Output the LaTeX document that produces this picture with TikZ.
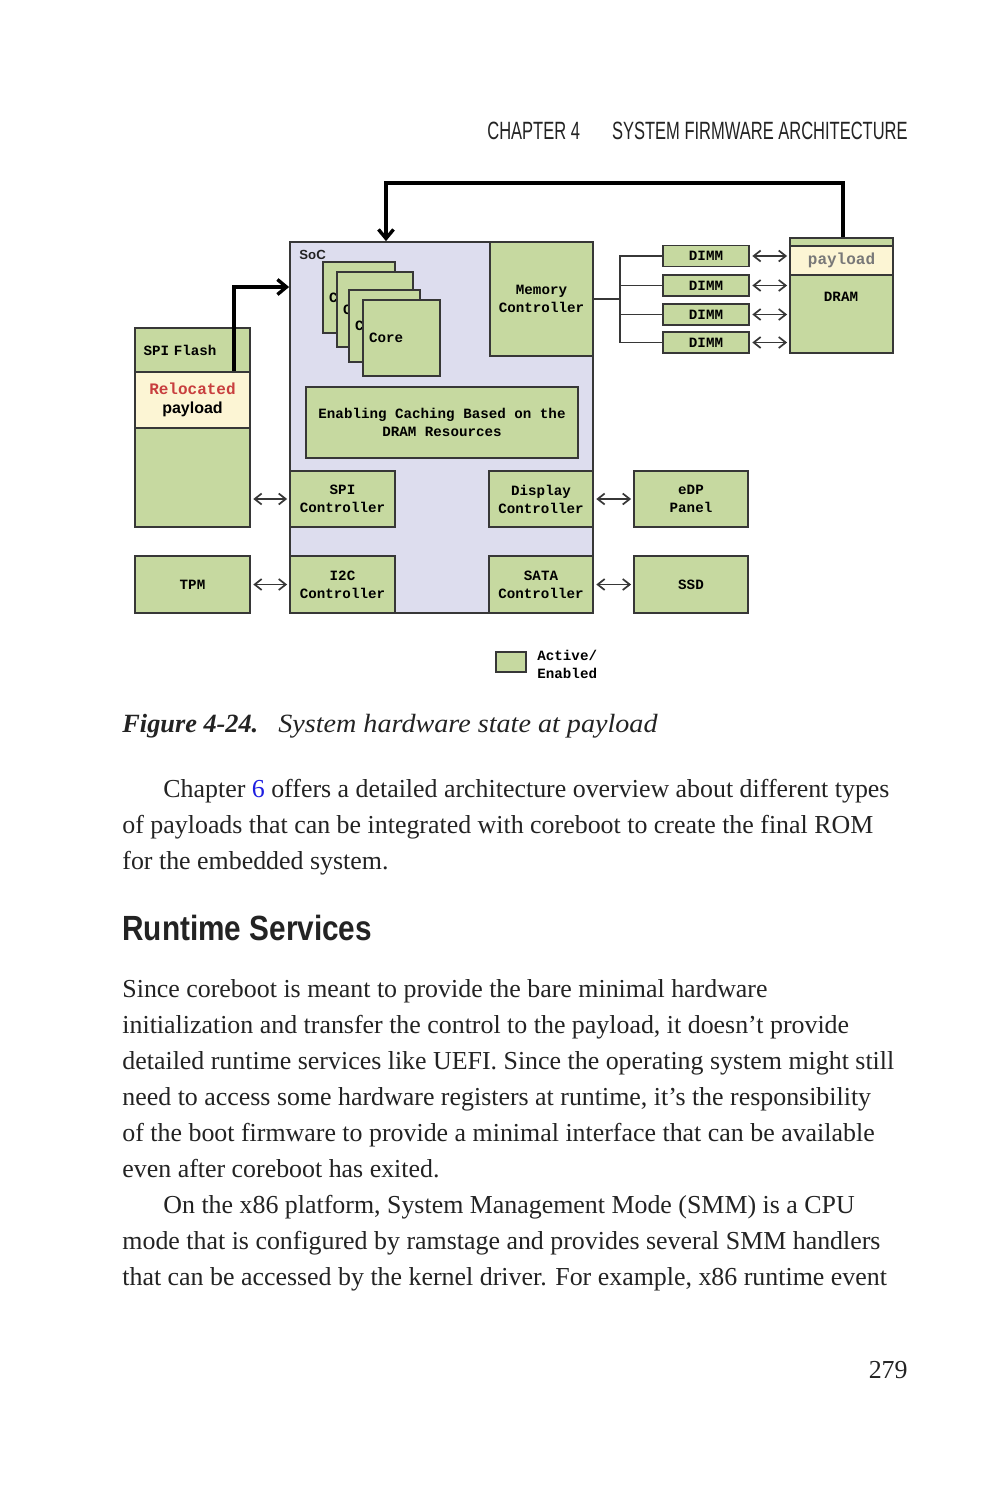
\documentclass[tikz,border=0pt]{standalone}
\usepackage{fontspec}
\setmainfont{Liberation Serif}
\newfontfamily\diagmono{Liberation Mono}
\newfontfamily\diagsans{Liberation Sans}
\newfontfamily\runhead[FakeStretch=0.66]{Liberation Sans}
\newfontfamily\secthead[FakeStretch=0.85]{Liberation Sans}
\usetikzlibrary{arrows.meta, positioning, calc}

\definecolor{blkgreen}{RGB}{198,217,160}
\definecolor{cream}{RGB}{252,245,212}
\definecolor{socbg}{RGB}{221,221,238}
\definecolor{edge}{RGB}{55,55,55}
\definecolor{relred}{RGB}{200,62,62}
\definecolor{linkblue}{RGB}{30,30,225}
\definecolor{inkgray}{RGB}{35,35,35}
\definecolor{paygray}{RGB}{120,120,120}

\begin{document}
\begin{tikzpicture}[x=0.5pt, y=-0.5pt,
  blk/.style={draw=edge, fill=blkgreen, line width=0.9pt, inner sep=0pt, align=center,
    font=\diagmono\bfseries\fontsize{7.1}{9}\selectfont},
  sz/.style 2 args={minimum width=#1pt, minimum height=#2pt},
  lbl/.style={inner sep=0pt, font=\diagmono\bfseries\fontsize{7.1}{9}\selectfont},
  dbl/.style={{Straight Barb[length=3.5pt,width=5.5pt]}-{Straight Barb[length=3.5pt,width=5.5pt]},
    draw=edge, line width=0.85pt, shorten <=1.2pt, shorten >=1pt},
  busline/.style={draw=edge, line width=0.75pt},
  bigarr/.style={-{Straight Barb[length=4.5pt,width=7.5pt]}, line width=1.7pt},
  body/.style={anchor=base west, inner sep=0pt, text=inkgray,
    font=\fontsize{12.95}{18}\selectfont}
]
\fill[white] (0,0) rectangle (989,1500);
\useasboundingbox (0,0) rectangle (989,1500);

% running head
\node[anchor=base west, inner sep=0pt, text=inkgray, font=\runhead\fontsize{12.5}{14}\selectfont]
  (chap) at (487,139) {CHAPTER 4};
\node[anchor=base east, inner sep=0pt, text=inkgray, font=\runhead\fontsize{12.5}{14}\selectfont]
  (chaptitle) at (908,139) {SYSTEM FIRMWARE ARCHITECTURE};

% SoC
\node[blk, fill=socbg, sz={151.5}{185.5}] (soc) at (441.5,427.5) {};
\node[anchor=base west, inner sep=0pt, text=inkgray, font=\diagsans\bfseries\fontsize{6.6}{7}\selectfont]
  (soctag) at (299,259) {SoC};
\foreach \i/\cx/\cy/\w/\h in {1/359/297.5/36/35.5, 2/375/309.5/38/37.5, 3/384.5/326/35.5/36, 4/401.5/338/38.5/38}{
  \pgfmathsetmacro\tw{\w-6}
  \node[blk, sz={\w}{\h}, text width=\tw pt, align=left] (core\i) at (\cx,\cy) {Core};
}
\node[blk, sz={51.5}{57}] (memctl) at (541.5,299) {Memory\\Controller};
\node[blk, sz={136}{35.5}] (cache) at (442,422.5) {Enabling Caching Based on the\\DRAM Resources};
\node[blk, sz={52.5}{28}] (spictl) at (342.5,499) {SPI\\Controller};
\node[blk, sz={52}{28}] (dispctl) at (541,499) {Display\\Controller};
\node[blk, sz={52.5}{28.5}] (i2cctl) at (342.5,584.5) {I2C\\Controller};
\node[blk, sz={52}{28.5}] (satactl) at (541,584.5) {SATA\\Controller};

% SPI flash and TPM
\node[blk, sz={57.5}{22}, text width=49pt, align=left] (flash) at (192.5,350) {SPI Flash};
\node[blk, fill=cream, sz={57.5}{28}, font=\diagmono\bfseries\fontsize{8}{9.5}\selectfont]
  (reloc) at (192.5,400) {{\color{relred}Relocated}\\{\diagsans payload}};
\node[blk, sz={57.5}{49.5}] (flashbody) at (192.5,477.5) {};
\node[blk, sz={57.5}{28.5}] (tpm) at (192.5,584.5) {TPM};

% panel and disk
\node[blk, sz={57}{28}] (edp) at (691,499) {eDP\\Panel};
\node[blk, sz={57}{28.5}] (ssd) at (691,584.5) {SSD};

% memory
\foreach \i/\cy in {1/256, 2/285.5, 3/314.5, 4/342.5}
  \node[blk, sz={43}{10.5}] (dimm\i) at (706,\cy) {DIMM};
\node[blk, sz={51.5}{4}] (dramcap) at (841.5,242) {};
\node[blk, fill=cream, sz={51.5}{14.5}, text=paygray,
  font=\diagmono\bfseries\fontsize{8}{9.5}\selectfont] (drampay) at (841.5,260.5) {payload};
\node[blk, sz={51.5}{39}] (dram) at (841.5,314) {};
\node[lbl] (dramtag) at (841,297) {DRAM};

% links
\coordinate (bus) at (620,300);
\draw[busline] (memctl.east) -- (memctl.east -| bus);
\foreach \i in {1,...,4} {
  \draw[busline] (dimm\i.west) -| (bus);
  \draw[dbl] (dimm\i.east) -- (dimm\i.east -| dram.west);
}
\draw[dbl] (spictl.west -| flashbody.east) -- (spictl.west);
\draw[dbl] (tpm.east) -- (i2cctl.west);
\draw[dbl] (dispctl.east) -- (edp.west);
\draw[dbl] (satactl.east) -- (ssd.west);

\coordinate (riser) at (234,287);
\draw[bigarr] (reloc.north -| riser) -- (riser) -- (soc.west |- riser);
\coordinate (retr) at (843,183);
\coordinate (retl) at (386,183);
\draw[bigarr] (dramcap.north -| retr) -- (retr) -- (retl) -- (soc.north -| retl);

% legend
\node[blk, sz={15}{10}] (legbox) at (511,662) {};
\node[lbl, anchor=west, align=left] (legtxt) at (537,664) {Active/\\Enabled};

% caption
\node[body, font=\fontsize{13.15}{18}\selectfont] (figcap) at (122,732)
  {\textbf{\textit{Figure 4-24.}}\hspace{10pt}{\itshape\addfontfeature{FakeStretch=1.07}System hardware state at payload}};

% text
\node[body] (pa0) at (163,797) {Chapter \textcolor{linkblue}{6} offers a detailed architecture overview about different types};
\foreach \ln [count=\k] in {{of payloads that can be integrated with coreboot to create the final ROM},
    {for the embedded system.}}
  \node[body] (pa\k) at (122,797+36*\k) {\ln};

\node[anchor=base west, inner sep=0pt, text=inkgray, font=\secthead\bfseries\fontsize{17.5}{20}\selectfont]
  (secttl) at (122,940) {Runtime Services};

\foreach \ln [count=\k from 0] in {{Since coreboot is meant to provide the bare minimal hardware},
    {initialization and transfer the control to the payload, it doesn’t provide},
    {detailed runtime services like UEFI. Since the operating system might still},
    {need to access some hardware registers at runtime, it’s the responsibility},
    {of the boot firmware to provide a minimal interface that can be available},
    {even after coreboot has exited.}}
  \node[body] (pb\k) at (122,997+36*\k) {\ln};

\node[body] (pc0) at (163,1213) {On the x86 platform, System Management Mode (SMM) is a CPU};
\foreach \ln [count=\k] in {{mode that is configured by ramstage and provides several SMM handlers},
    {that can be accessed by the kernel driver. For example, x86 runtime event}}
  \node[body] (pc\k) at (122,1213+36*\k) {\ln};

\node[body, anchor=base east] (pageno) at (908,1378) {279};
\end{tikzpicture}
\end{document}
